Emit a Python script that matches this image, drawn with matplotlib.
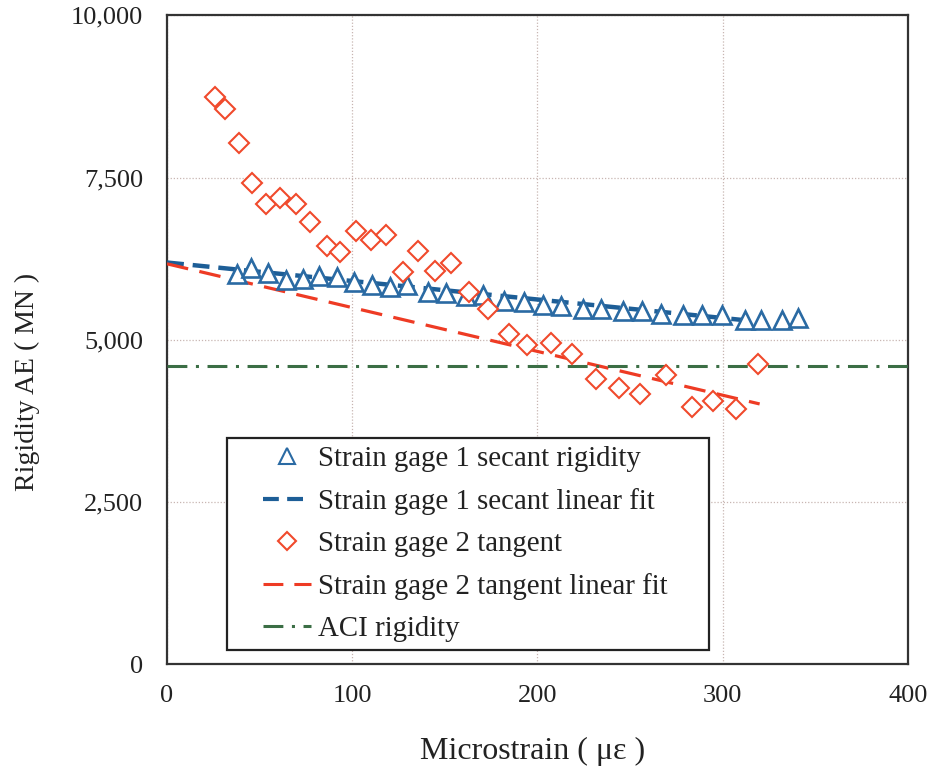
import matplotlib
matplotlib.use("Agg")
import matplotlib.pyplot as plt
from matplotlib.lines import Line2D
from matplotlib.patches import Rectangle
from matplotlib.ticker import FuncFormatter

plt.rcParams["font.family"] = ["Liberation Serif", "DejaVu Serif"]

# Strain gage 1, secant rigidity (microstrain, MN)
gage1_strain = [37.9, 45.2, 54.5, 64.2, 73.6, 82.0, 91.7, 100.9, 110.8, 120.3,
                129.7, 141.0, 150.6, 161.4, 170.4, 182.1, 192.7, 203.1, 212.5,
                224.7, 234.4, 246.1, 256.5, 267.0, 278.6, 288.8, 299.9, 311.9,
                320.9, 332.3, 340.9]
gage1_rigidity = [6020, 6112, 6035, 5917, 5937, 5989, 5968, 5897, 5844, 5814,
                  5844, 5735, 5727, 5670, 5683, 5604, 5585, 5542, 5521, 5470,
                  5470, 5444, 5444, 5393, 5385, 5378, 5381, 5300, 5311, 5300,
                  5336]

# Strain gage 2, tangent rigidity
gage2_strain = [25.9, 31.5, 38.7, 46.0, 53.4, 61.0, 69.8, 77.3, 86.2, 93.4,
                102.0, 110.1, 118.2, 127.5, 135.5, 144.8, 153.6, 163.1, 173.1,
                184.7, 194.4, 207.2, 218.9, 231.5, 243.9, 255.4, 269.3, 283.3,
                294.8, 307.2, 318.9]
gage2_rigidity = [8741, 8556, 8038, 7416, 7088, 7191, 7088, 6810, 6445, 6353,
                  6683, 6544, 6610, 6051, 6368, 6060, 6183, 5737, 5470, 5089,
                  4926, 4951, 4787, 4387, 4263, 4160, 4453, 3965, 4048, 3929,
                  4622]

# linear fits: end points over the fitted strain range
fit_strain = [0, 320]
gage1_fit = [6190, 5278]
gage2_fit = [6170, 4010]

aci_strain = [0, 400]
aci_rigidity = [4600, 4600]

BLUE_MK = "#2a6aa3"
BLUE_LN = "#1d5e97"
RED_MK = "#f04a2c"
RED_LN = "#ee3b24"
GREEN = "#3b6e45"

fig = plt.figure(figsize=(9.33, 7.66), dpi=100)
ax = fig.add_axes([0.179, 0.133, 0.794, 0.847])

ax.plot(fit_strain, gage1_fit, color=BLUE_LN, lw=3.2,
        dashes=(3.8, 2.0), zorder=3)
ax.plot(fit_strain, gage2_fit, color=RED_LN, lw=2.3, dashes=(6.8, 3.6),
        zorder=3)
ax.plot(aci_strain, aci_rigidity, color=GREEN, lw=2.2,
        dashes=(6.5, 2.8, 1.0, 2.8), zorder=3)
ax.plot(gage1_strain, gage1_rigidity, ls="none", marker="^", ms=13.5,
        mfc="white", mec=BLUE_MK, mew=1.9, zorder=4)
ax.plot(gage2_strain, gage2_rigidity, ls="none", marker="D", ms=10.2,
        mfc="white", mec=RED_MK, mew=1.5, zorder=5)

ax.set_xlim(0, 400)
ax.set_ylim(0, 10000)
ax.set_xticks([0, 100, 200, 300, 400])
ax.set_yticks([0, 2500, 5000, 7500, 10000])
ax.yaxis.set_major_formatter(FuncFormatter(lambda v, _: f"{int(v):,}"))
ax.tick_params(length=0, labelsize=19, colors="#222222")
ax.tick_params(axis="y", pad=17)
ax.tick_params(axis="x", pad=15)
ax.grid(True, ls=(0, (1, 1.5)), color="#c8b6b2", lw=0.9)
ax.set_axisbelow(True)
for sp in ax.spines.values():
    sp.set_linewidth(1.6)
    sp.set_color("#333333")

ax.set_xlabel("Microstrain ( με )", fontsize=23, color="#222222")
ax.set_ylabel("Rigidity AE ( MN )", fontsize=20, color="#222222")
ax.xaxis.set_label_coords(0.493, -0.112)
ax.yaxis.set_label_coords(-0.172, 0.435)

handles = [
    Line2D([], [], ls="none", marker="^", ms=11, mfc="white", mec=BLUE_MK,
           mew=1.5),
    Line2D([], [], color=BLUE_LN, lw=3.0, dashes=(3.8, 2.0)),
    Line2D([], [], ls="none", marker="D", ms=9.5, mfc="white", mec=RED_MK,
           mew=1.5),
    Line2D([], [], color=RED_LN, lw=2.2, dashes=(6.5, 3.6)),
    Line2D([], [], color=GREEN, lw=2.2, dashes=(6.5, 2.8, 1.0, 2.8)),
]
labels = [
    "Strain gage 1 secant rigidity",
    "Strain gage 1 secant linear fit",
    "Strain gage 2 tangent",
    "Strain gage 2 tangent linear fit",
    "ACI rigidity",
]

# legend frame is drawn separately so the side padding can be wider
ax.add_patch(Rectangle((0.081, 0.0216), 0.650, 0.327, transform=ax.transAxes,
                       facecolor="white", edgecolor="#222222", lw=1.6,
                       zorder=6))
leg = ax.legend(handles, labels, loc="upper left",
                bbox_to_anchor=(0.1296, 0.336), frameon=False, borderpad=0,
                borderaxespad=0, fontsize=20.8, handlelength=1.65,
                handletextpad=0.25, labelspacing=0.55)
leg.set_zorder(7)
for t in leg.get_texts():
    t.set_color("#222222")

fig.savefig("out.png", dpi=100)
